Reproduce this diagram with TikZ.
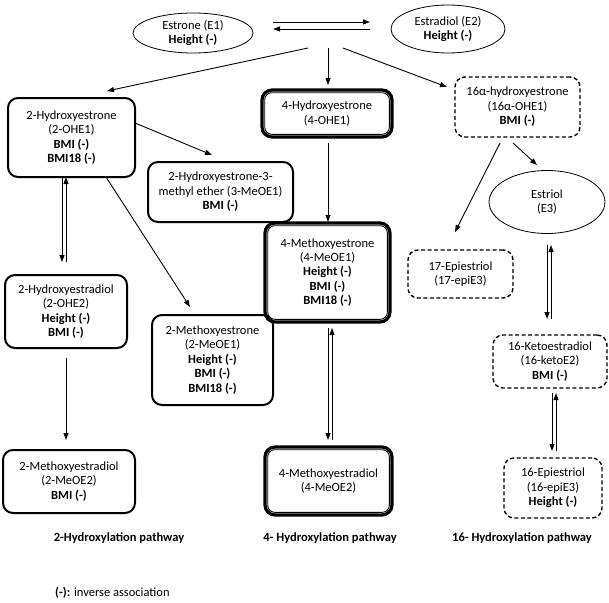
\documentclass[tikz,border=0pt]{standalone}
\usepackage{fontspec}
\setmainfont{Carlito}
\usetikzlibrary{arrows.meta,calc,shapes.geometric}
\begin{document}
\begin{tikzpicture}[x=1pt,y=-1pt,
  every node/.style={font=\fontsize{12.5}{14.4}\selectfont, align=center, inner sep=0pt},
  solidbox/.style={draw, line width=2pt, rounded corners=10pt},
  dblbox/.style={draw, line width=3.2pt, rounded corners=10pt},
  dashbox/.style={draw, line width=1.4pt, dash pattern=on 4pt off 2.5pt, rounded corners=10pt},
  oval/.style={draw, ellipse, line width=0.8pt},
  arr/.style={line width=0.9pt, -{Triangle[length=7pt,width=5pt]}},
  inner/.style={line width=0.9pt, rounded corners=7pt}]
\path[use as bounding box] (0,0) rectangle (609,602);

% ellipses
\node[oval, minimum width=120, minimum height=40] (e1) at (193,33) {Estrone (E1)\\\textbf{Height (-)}};
\node[oval, minimum width=114, minimum height=48] (e2) at (448,29) {Estradiol (E2)\\\textbf{Height (-)}};
\node[oval, minimum width=116, minimum height=63] (e3) at (547,202) {Estriol\\(E3)};

% boxes
\node[solidbox, minimum width=127, minimum height=79] (o2e1) at (71.5,137.5) {2-Hydroxyestrone\\(2-OHE1)\\\textbf{BMI (-)}\\\textbf{BMI18 (-)}};
\node[dblbox, minimum width=130, minimum height=47] (o4e1) at (327,113.5) {4-Hydroxyestrone\\(4-OHE1)};
\node[dashbox, minimum width=125, minimum height=60] (o16) at (517.5,107) {16α-hydroxyestrone\\(16α-OHE1)\\\textbf{BMI (-)}};
\node[solidbox, minimum width=145, minimum height=60] (m3e1) at (220.5,192) {2-Hydroxyestrone-3-\\methyl ether (3-MeOE1)\\\textbf{BMI (-)}};
\node[dblbox, minimum width=125, minimum height=99] (m4e1) at (327.5,272.5) {4-Methoxyestrone\\(4-MeOE1)\\\textbf{Height (-)}\\\textbf{BMI (-)}\\\textbf{BMI18 (-)}};
\node[dashbox, minimum width=105, minimum height=48] (epi17) at (460.5,274) {17-Epiestriol\\(17-epiE3)};
\node[solidbox, minimum width=122, minimum height=73] (o2e2) at (66,311.5) {2-Hydroxyestradiol\\(2-OHE2)\\\textbf{Height (-)}\\\textbf{BMI (-)}};
\node[solidbox, minimum width=121, minimum height=90] (m2e1) at (212.5,360) {2-Methoxyestrone\\(2-MeOE1)\\\textbf{Height (-)}\\\textbf{BMI (-)}\\\textbf{BMI18 (-)}};
\node[dashbox, minimum width=114, minimum height=53] (k16) at (550,361.5) {16-Ketoestradiol\\(16-ketoE2)\\\textbf{BMI (-)}};
\node[dblbox, minimum width=127, minimum height=68] (m4e2) at (328.5,481) {4-Methoxyestradiol\\(4-MeOE2)};
\node[solidbox, minimum width=132, minimum height=63] (m2e2) at (69,481.5) {2-Methoxyestradiol\\(2-MeOE2)\\\textbf{BMI (-)}};
\node[dashbox, minimum width=98, minimum height=60] (epi16) at (553,488) {16-Epiestriol\\(16-epiE3)\\\textbf{Height (-)}};

% inner lines of double boxes
\foreach \n in {o4e1,m4e1,m4e2}
  \draw[inner] ($(\n.south west)+(4.3,-4.3)$) rectangle ($(\n.north east)+(-4.3,4.3)$);

% labels
\node[font=\fontsize{12.5}{14.4}\selectfont\bfseries] (l2) at (119,538) {2-Hydroxylation pathway};
\node[font=\fontsize{12.5}{14.4}\selectfont\bfseries] (l4) at (330,538) {4- Hydroxylation pathway};
\node[font=\fontsize{12.5}{14.4}\selectfont\bfseries] (l16) at (522,538) {16- Hydroxylation pathway};
\node[anchor=west] (legend) at (55,593) {\textbf{(-):} inverse association};

% E1 <-> E2
\coordinate (ea1) at (273,22); \coordinate (ea2) at (370,22);
\coordinate (eb1) at (370,29); \coordinate (eb2) at (273,29);
\draw[arr] (ea1) -- (ea2);
\draw[arr] (eb1) -- (eb2);

% from estrogens
\coordinate (j1) at (308,48); \coordinate (t1) at (107,91);
\coordinate (j2) at (328,48); \coordinate (t2) at (328,85);
\coordinate (j3) at (343,48); \coordinate (t3) at (447,87);
\draw[arr] (j1) -- (t1);
\draw[arr] (j2) -- (t2);
\draw[arr] (j3) -- (t3);

% 2-pathway
\coordinate (a5s) at (135,123); \coordinate (a5e) at (212,155);
\draw[arr] (a5s) -- (a5e);
\coordinate (a13s) at (106,177); \coordinate (a13e) at (190,307);
\draw[arr] (a13s) -- (a13e);
\draw[arr] (62,177) -- (62,262);
\draw[arr] (66,262) -- (66,177);
\draw[arr] (66,358) -- (66,440);

% 4-pathway
\draw[arr] (328,143) -- (328,222);
\draw[arr] (328,328) -- (328,440);
\draw[arr] (332,440) -- (332,328);

% 16-pathway
\draw[arr] (513,143) -- (537,165);
\draw[arr] (500,143) -- (455,232);
\draw[arr] (547,245) -- (547,319);
\draw[arr] (551,319) -- (551,245);
\draw[arr] (552,393) -- (552,451);
\draw[arr] (556,451) -- (556,393);
\end{tikzpicture}
\end{document}
